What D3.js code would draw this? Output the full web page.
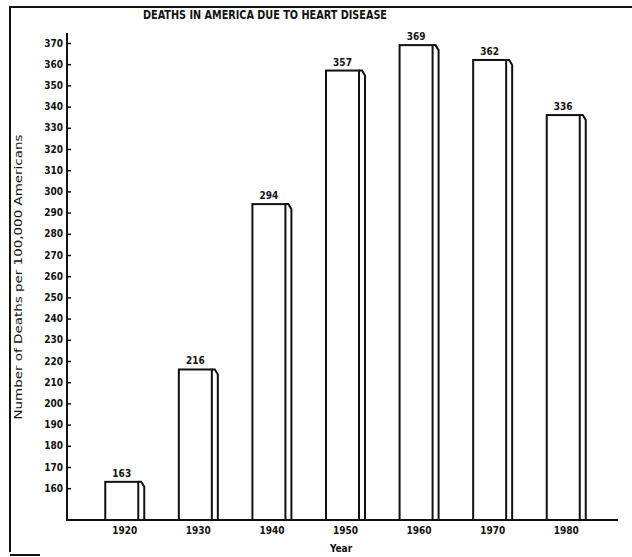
<!DOCTYPE html>
<html>
<head>
<meta charset="utf-8">
<script src="https://cdn.jsdelivr.net/npm/d3@7/dist/d3.min.js"></script>
<style>
html,body{margin:0;padding:0;background:#fff;}
svg{display:block;}
text{font-family:"DejaVu Sans Condensed","Liberation Sans Narrow","Liberation Sans",sans-serif;font-weight:bold;fill:#111;}
</style>
</head>
<body>
<svg id="chart" width="632" height="557"></svg>
<script>
const years = ["1920","1930","1940","1950","1960","1970","1980"];
const deaths = [163, 216, 294, 357, 369, 362, 336];
const yTicks = d3.range(160, 371, 10);
const title = "DEATHS IN AMERICA DUE TO HEART DISEASE";
const yLabel = "Number of Deaths per 100,000 Americans";
const xLabel = "Year";

const svg = d3.select("#chart");
const ink = "#111";

// frame
svg.append("path").attr("d", "M10,552 L10,7 L632,7").attr("fill","none").attr("stroke",ink).attr("stroke-width",2);
svg.append("line").attr("x1",10).attr("x2",40).attr("y1",555).attr("y2",555).attr("stroke",ink).attr("stroke-width",2);

const x = d3.scaleBand().domain(years).range([67, 624]).paddingInner(0.47).paddingOuter(0.52);
const y = d3.scaleLinear().domain([145, 370]).range([520, 43]);
const side = 6;

// title
svg.append("text").attr("x", 265).attr("y", 19).attr("text-anchor","middle")
  .attr("font-size", 12).attr("textLength", 244).attr("lengthAdjust","spacingAndGlyphs").text(title);

// y axis
const yAxis = d3.axisRight(y).tickValues(yTicks).tickSize(4).tickFormat("");
const gy = svg.append("g").attr("transform","translate(67,0)").call(yAxis);
gy.select(".domain").remove();
gy.selectAll(".tick line").attr("stroke", ink).attr("stroke-width", 1.5);
svg.append("line").attr("x1",67).attr("x2",67).attr("y1",33).attr("y2",521).attr("stroke",ink).attr("stroke-width",2);
svg.selectAll(".ytl").data(yTicks).enter().append("text").attr("class","ytl")
  .attr("x", 63).attr("y", d => y(d) + 3.5).attr("text-anchor","end").attr("font-size", 10)
  .text(d => d);

// x axis
svg.append("line").attr("x1",66).attr("x2",618).attr("y1",520).attr("y2",520).attr("stroke",ink).attr("stroke-width",2);
const xAxis = d3.axisBottom(x).tickSize(0).tickPadding(0);
const gx = svg.append("g").attr("transform","translate(0,520)").call(xAxis);
gx.select(".domain").remove();
gx.selectAll(".tick text").attr("dy", null).attr("y", 14).attr("font-size", 10)
  .style("font-family", '"DejaVu Sans Condensed",sans-serif').style("font-weight","bold").attr("fill", ink);

svg.append("text").attr("x", 341).attr("y", 552).attr("text-anchor","middle").attr("font-size", 10).text(xLabel);
svg.append("text").attr("transform", "translate(22,277) rotate(-90)").attr("text-anchor","middle")
  .attr("font-size", 11).style("font-weight","normal").style("font-family",'"DejaVu Sans",sans-serif')
  .attr("textLength", 285).attr("lengthAdjust","spacingAndGlyphs").text(yLabel);

// bars
const data = years.map((yr, i) => ({yr, v: deaths[i]}));
const g = svg.append("g");
data.forEach(d => {
  const x0 = x(d.yr), w = x.bandwidth() - side, top = y(d.v), base = y(145);
  g.append("rect").attr("x", x0).attr("y", top).attr("width", w).attr("height", base - top)
    .attr("fill","#fff").attr("stroke", ink).attr("stroke-width", 2);
  g.append("path").attr("d", `M${x0 + w},${top} L${x0 + w + 3},${top} L${x0 + w + side},${top + 5} L${x0 + w + side},${base}`)
    .attr("fill","none").attr("stroke", ink).attr("stroke-width", 2);
  g.append("text").attr("x", x0 + w / 2).attr("y", top - 5).attr("text-anchor","middle").attr("font-size", 10).text(d.v);
});
</script>
</body>
</html>
